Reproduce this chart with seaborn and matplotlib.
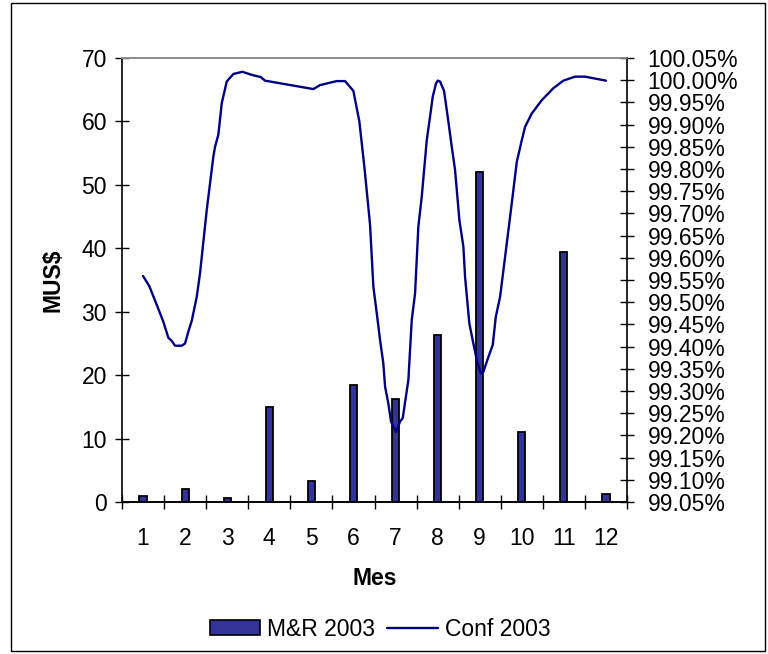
import matplotlib
matplotlib.use("Agg")
import matplotlib.pyplot as plt
from matplotlib.patches import Rectangle, Patch
from matplotlib.lines import Line2D
from matplotlib.ticker import FuncFormatter, FixedLocator
import seaborn as sns
import pandas as pd

# ---- data ----
months = [1, 2, 3, 4, 5, 6, 7, 8, 9, 10, 11, 12]
mr_2003 = [0.9, 2.1, 0.6, 14.9, 3.3, 18.4, 16.3, 26.4, 52.0, 11.0, 39.4, 1.2]

conf_x = [1.00, 1.15, 1.326, 1.482, 1.601, 1.682, 1.76, 1.92, 1.998, 2.077,
          2.157, 2.276, 2.355, 2.514, 2.671, 2.711, 2.789, 2.87, 2.989, 3.146,
          3.36, 3.583, 3.797, 3.899, 5.047, 5.206, 5.603, 5.80, 5.998, 6.14,
          6.259, 6.394, 6.473, 6.554, 6.632, 6.71, 6.751, 6.829, 6.893, 7.012,
          7.107, 7.171, 7.305, 7.385, 7.464, 7.542, 7.623, 7.742, 7.82, 7.884,
          7.963, 8.003, 8.058, 8.153, 8.255, 8.336, 8.414, 8.517, 8.612, 8.652,
          8.754, 8.849, 8.93, 9.025, 9.087, 9.182, 9.31, 9.382, 9.484, 9.603,
          9.762, 9.881, 10.0, 10.078, 10.237, 10.475, 10.75, 10.988, 11.266, 11.504,
          12.0]
conf_2003 = [99.559, 99.536, 99.494, 99.456, 99.420, 99.413, 99.402, 99.402, 99.407, 99.434,
             99.458, 99.512, 99.566, 99.708, 99.828, 99.850, 99.877, 99.948, 99.997, 100.014,
             100.019, 100.012, 100.007, 99.999, 99.980, 99.989, 99.998, 99.998, 99.976, 99.907,
             99.805, 99.675, 99.535, 99.475, 99.415, 99.362, 99.310, 99.272, 99.231, 99.208,
             99.231, 99.239, 99.325, 99.460, 99.520, 99.670, 99.738, 99.865, 99.918, 99.963,
             99.993, 99.999, 99.997, 99.976, 99.907, 99.850, 99.798, 99.685, 99.625, 99.557,
             99.452, 99.407, 99.370, 99.340, 99.343, 99.370, 99.404, 99.467, 99.512, 99.602,
             99.723, 99.816, 99.865, 99.895, 99.925, 99.955, 99.982, 99.999, 100.008, 100.008,
             99.999]

left_ticks = [0, 10, 20, 30, 40, 50, 60, 70]
right_ticks = [99.05 + 0.05 * i for i in range(21)]

bar_df = pd.DataFrame({"Mes": months, "MUS": mr_2003})
line_df = pd.DataFrame({"Mes": conf_x, "Conf": conf_2003})

# ---- style ----
sns.set_theme(style="white")
plt.rcParams["font.family"] = ["Liberation Sans", "DejaVu Sans"]
plt.rcParams.update({"text.color": "black", "axes.labelcolor": "black",
                     "xtick.color": "black", "ytick.color": "black"})
FS = 16.5

W, H = 768, 654
dpi = 100
fig = plt.figure(figsize=(W / dpi, H / dpi), dpi=dpi)
fig.patch.set_facecolor("white")

L, R, T, B = 122, 627, 58, 502
ax = fig.add_axes([L / W, 1 - B / H, (R - L) / W, (B - T) / H])
ax2 = ax.twinx()

bar_color = "#333399"
line_color = "#000080"

sns.barplot(data=bar_df, x="Mes", y="MUS", native_scale=True, ax=ax,
            color=bar_color, saturation=1, width=0.17,
            edgecolor="black", linewidth=1.3, errorbar=None)
sns.lineplot(data=line_df, x="Mes", y="Conf", ax=ax2, color=line_color,
             linewidth=1.7, sort=False, estimator=None)

ax.set_xlim(0.5, 12.5)
ax.set_ylim(0, 70)
ax2.set_ylim(99.05, 100.05)

# x ticks: labels at months, tick marks at boundaries
ax.xaxis.set_major_locator(FixedLocator(months))
ax.set_xticklabels([str(m) for m in months])
ax.xaxis.set_minor_locator(FixedLocator([m + 0.5 for m in [0] + months]))
ax.tick_params(axis="x", which="major", length=0, pad=18, labelsize=FS)
ax.tick_params(axis="x", which="minor", direction="inout", length=9.5, width=1, bottom=True)

ax.yaxis.set_major_locator(FixedLocator(left_ticks))
ax.tick_params(axis="y", which="major", direction="inout", length=9.5, width=1,
               labelsize=FS, pad=6, left=True)

ax2.yaxis.set_major_locator(FixedLocator(right_ticks))
ax2.yaxis.set_major_formatter(FuncFormatter(lambda v, p: f"{v:.2f}%"))
ax2.tick_params(axis="y", which="major", direction="inout", length=9.5, width=1,
                labelsize=FS, pad=10, right=True)

for a in (ax, ax2):
    a.grid(False)
    for s in ("left", "right", "bottom"):
        a.spines[s].set_color("black")
        a.spines[s].set_linewidth(1.2)
    a.spines["top"].set_color("#8c8c8c")
    a.spines["top"].set_linewidth(1.2)
ax2.spines["left"].set_visible(False)
ax.spines["right"].set_visible(False)

ax.set_xlabel("Mes", fontsize=FS, fontweight="bold", labelpad=12)
ax.set_ylabel("MUS$", fontsize=FS, fontweight="bold", labelpad=12)
ax2.set_ylabel("")

# legend
handles = [Patch(facecolor=bar_color, edgecolor="black", linewidth=1.2),
           Line2D([0], [0], color=line_color, linewidth=1.7)]
fig.legend(handles, ["M&R 2003", "Conf 2003"], loc="center",
           bbox_to_anchor=(380 / W, 1 - 629 / H), ncol=2, frameon=False,
           fontsize=FS, handlelength=2.2, handleheight=0.65,
           handletextpad=0.3, columnspacing=0.55)

# outer frame
fig.patches.append(Rectangle((11 / W, 3 / H), (765 - 11) / W, (651 - 3) / H,
                             transform=fig.transFigure, fill=False,
                             edgecolor="black", linewidth=1.0))

fig.savefig("out.png", dpi=dpi)
